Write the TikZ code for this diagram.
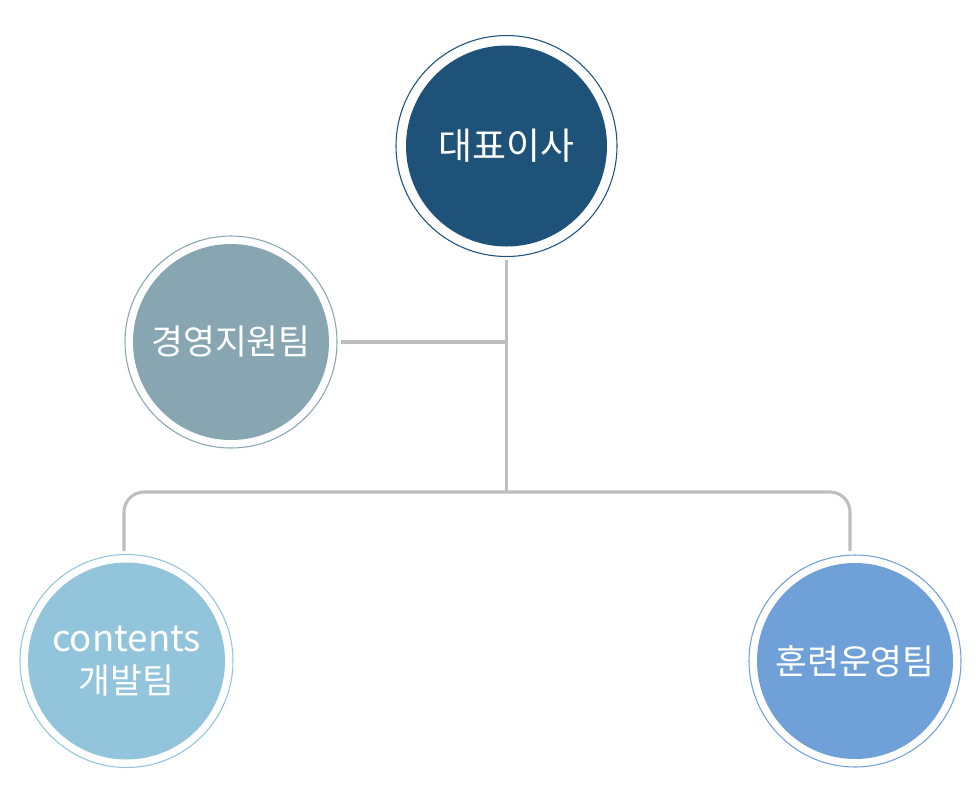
\documentclass[tikz,border=0pt]{standalone}
\usepackage{fontspec}
\setmainfont{Noto Sans CJK KR}
\definecolor{cTop}{RGB}{31,82,121}
\definecolor{cMgmt}{RGB}{135,166,178}
\definecolor{cCont}{RGB}{146,196,220}
\definecolor{cTrain}{RGB}{111,160,216}
\definecolor{cLine}{RGB}{190,190,190}
\tikzset{
  orgcircle/.style={circle, fill=#1, draw=none, text=white, align=center,
    font=\fontsize{26pt}{32pt}\selectfont, inner sep=0pt},
  ring/.style={circle, draw=#1, line width=0.8pt, fill=none, inner sep=0pt},
  conn/.style={draw=cLine, line width=2.3pt}
}
\begin{document}
\begin{tikzpicture}[x=0.75pt,y=-0.75pt]
\useasboundingbox (0,0) rectangle (980,800);
% top
\node[ring=cTop, minimum size=221*0.75pt] (topr) at (506.5,146) {};
\node[orgcircle=cTop, minimum size=201*0.75pt, font=\fontsize{27.7pt}{30pt}\selectfont] (ceo) at (506.5,146) {대표이사};
% left mgmt
\node[ring=cMgmt, minimum size=212*0.75pt] (mgmtr) at (231,342) {};
\node[orgcircle=cMgmt, minimum size=196*0.75pt] (mgmt) at (231,342) {경영지원팀};
% bottom left
\node[ring=cCont, minimum size=213*0.75pt] (contr) at (126.5,661) {};
\node[orgcircle=cCont, minimum size=197*0.75pt] (cont) at (126.5,661) {{\fontsize{27.5pt}{32pt}\selectfont contents}\\개발팀};
% bottom right
\node[ring=cTrain, minimum size=212*0.75pt] (trainr) at (855,661) {};
\node[orgcircle=cTrain, minimum size=196*0.75pt] (train) at (855,661) {훈련운영팀};
% connectors
\coordinate (j1) at (506.5,342);
\coordinate (j2) at (506.5,492);
\coordinate (bl) at (124,551);
\coordinate (br) at (850,551);
\draw[conn] (506.5,260) -- (j1) -- (j2);
\draw[conn] (341,342) -- (j1);
\draw[conn, rounded corners=20*0.75pt] (bl) |- (j2) -| (br);
\end{tikzpicture}
\end{document}
